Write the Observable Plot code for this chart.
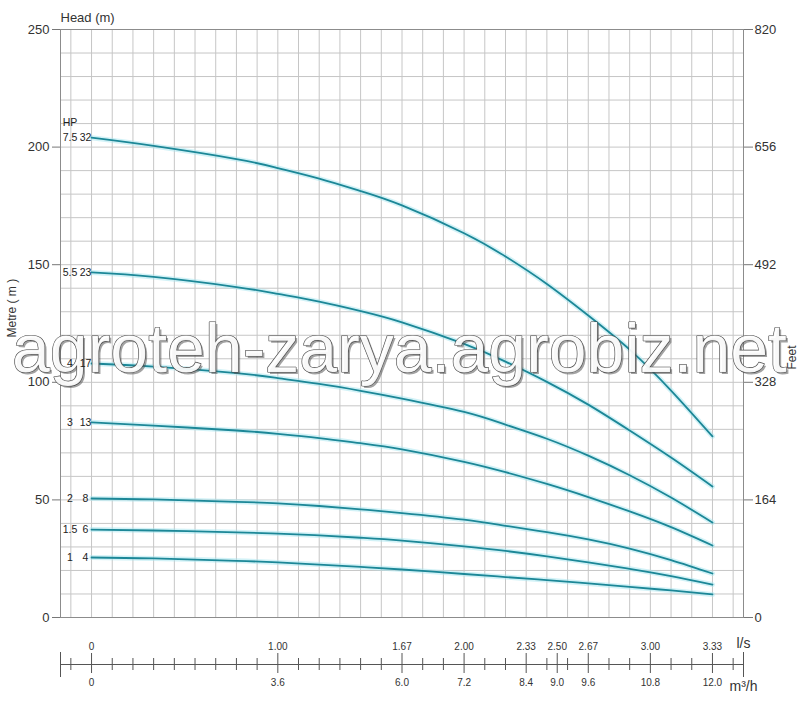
<!DOCTYPE html>
<html><head><meta charset="utf-8">
<script src="https://cdn.jsdelivr.net/npm/d3@7"></script>
<script src="https://cdn.jsdelivr.net/npm/@observablehq/plot@0.6"></script>
<style>
body{margin:0;background:#fff;}
#chart svg{display:block;}
</style></head><body><div id="chart"></div>
<script>
// Flow rate sample points (m³/h)
const flow = [0, 1.2, 2.8, 3.6, 4.4, 5.2, 6.0, 7.2, 8.0, 8.8, 9.6, 10.4, 11.2, 12.0];
// Head (m) per pump model, read at the flow points above
const head75 = [204, 200.5, 194.9, 191.1, 186.6, 181.3, 175.2, 163.4, 153.5, 141.8, 128.4, 113.9, 96.5, 77.0];
const head55 = [146.7, 144.8, 140.5, 137.6, 134.3, 130.3, 125.5, 116.3, 108.8, 100.2, 90.5, 79.5, 68.0, 55.7];
const head4  = [108, 106.7, 103.9, 101.8, 99.3, 96.4, 93.1, 87.4, 82.0, 76.0, 68.8, 60.5, 51.0, 40.4];
const head3  = [83, 81.6, 79.5, 78.1, 76.3, 74.1, 71.5, 66.2, 61.8, 56.8, 51.2, 45.1, 38.4, 30.6];
const head2  = [50.6, 50.2, 49.2, 48.5, 47.4, 46.0, 44.4, 41.6, 39.0, 36.3, 33.2, 29.3, 24.4, 18.7];
const head15 = [37.4, 37.0, 36.2, 35.7, 34.9, 33.9, 32.7, 30.2, 28.3, 26.0, 23.4, 20.7, 17.6, 14.0];
const head1  = [25.5, 25.1, 24.1, 23.4, 22.5, 21.5, 20.4, 18.5, 17.2, 15.9, 14.5, 13.0, 11.5, 9.8];
const hpLabels = ["7.5", "5.5", "4", "3", "2", "1.5", "1"];
const stageLabels = ["32", "23", "17", "13", "8", "6", "4"];
// Axes
const headTicks = [0, 50, 100, 150, 200, 250];
const feetLabels = ["0", "164", "328", "492", "656", "820"];
const m3hTicks = [0, 3.6, 6.0, 7.2, 8.4, 9.0, 9.6, 10.8, 12.0];
const m3hLabels = ["0", "3.6", "6.0", "7.2", "8.4", "9.0", "9.6", "10.8", "12.0"];
const lsLabels = ["0", "1.00", "1.67", "2.00", "2.33", "2.50", "2.67", "3.00", "3.33"];
const watermark = "agroteh-zarya.agrobiz.net";

const series = [head75, head55, head4, head3, head2, head15, head1];
const rows = series.flatMap((s, i) => flow.map((q, j) => ({q, h: s[j], pump: i})));
const starts = series.map((s, i) => ({q: flow[0], h: s[0], hp: hpLabels[i], st: stageLabels[i]}));

const xDomain = [-0.6, 12.6];
const gridQ = d3.range(-1, 32).map(k => +(k * 0.4).toFixed(1));
const gridH = d3.range(1, 25).map(k => k * 10);
const minorQ = gridQ.filter(q => !m3hTicks.includes(q));
const font = "'Liberation Sans', Arial, Helvetica, sans-serif";

const main = Plot.plot({
  width: 800, height: 630,
  marginTop: 29, marginRight: 57, marginBottom: 13, marginLeft: 60,
  style: {fontFamily: font, fontSize: "13px", color: "#333", background: "#fff", overflow: "visible"},
  x: {domain: xDomain, axis: null},
  y: {domain: [0, 250], axis: null},
  marks: [
    Plot.ruleX(gridQ, {stroke: "#c6c6c6", strokeWidth: 1}),
    Plot.ruleY(gridH, {stroke: "#c6c6c6", strokeWidth: 1}),
    Plot.frame({stroke: "#8c8c8c"}),
    Plot.axisY({ticks: headTicks, tickSize: 8, tickPadding: 3, label: null, stroke: "#777", fill: "#333", fontSize: 13}),
    Plot.axisY({anchor: "right", ticks: headTicks, tickSize: 9, tickPadding: 2, label: null, stroke: "#777", fill: "#333", fontSize: 13,
      tickFormat: d => feetLabels[headTicks.indexOf(d)]}),
    Plot.text(["Head (m)"], {frameAnchor: "top-left", dx: 0, dy: -17, textAnchor: "start", fontSize: 13, fill: "#333"}),
    Plot.text(["Metre ( m )"], {frameAnchor: "left", dx: -48, dy: 14, rotate: -90, fontSize: 12, fill: "#333"}),
    Plot.text(["Feet"], {frameAnchor: "right", dx: 49, dy: 22, rotate: -90, fontSize: 12, fill: "#333"}),
    Plot.line(rows, {x: "q", y: "h", z: "pump", stroke: "#a6e6ef", strokeWidth: 5, strokeOpacity: 0.5, curve: "natural"}),
    Plot.line(rows, {x: "q", y: "h", z: "pump", stroke: "#1c8797", strokeWidth: 1.8, curve: "natural"}),
    Plot.text([watermark], {frameAnchor: "middle", dx: -0.5, dy: 29, fontSize: 68, fill: "#555", fillOpacity: 0.55}),
    Plot.text([watermark], {frameAnchor: "middle", dx: -2.5, dy: 27, fontSize: 68, fill: "#fff", fillOpacity: 0.92, stroke: "#444", strokeWidth: 1.2}),
    Plot.text(starts, {x: "q", y: "h", text: "hp", dx: -21.5, fontSize: 10.5, fill: "#222"}),
    Plot.text(starts, {x: "q", y: "h", text: "st", dx: -6, fontSize: 10.5, fill: "#222"}),
    Plot.text(starts.slice(0, 1), {x: "q", y: "h", text: () => "HP", dx: -21.5, dy: -15, fontSize: 10.5, fill: "#222"})
  ]
});

const flowAxis = Plot.plot({
  width: 800, height: 73,
  marginTop: 0, marginRight: 57, marginBottom: 0, marginLeft: 60,
  style: {fontFamily: font, fontSize: "10px", color: "#333", background: "#fff", overflow: "visible"},
  x: {domain: xDomain, axis: null},
  y: {domain: [0, 73], range: [0, 73], axis: null},
  marks: [
    Plot.ruleY([34], {x1: xDomain[0], x2: xDomain[1], stroke: "#555"}),
    Plot.ruleX(minorQ, {y1: 28, y2: 40, stroke: "#555"}),
    Plot.ruleX(m3hTicks, {y1: 23, y2: 43, stroke: "#555"}),
    Plot.ruleX(xDomain, {y1: 22, y2: 47, stroke: "#555"}),
    Plot.text(m3hTicks, {x: d => d, y: 16.5, text: (d, i) => lsLabels[i], fontSize: 10, fill: "#333"}),
    Plot.text(m3hTicks, {x: d => d, y: 52, text: (d, i) => m3hLabels[i], fontSize: 10, fill: "#333"}),
    Plot.text(["l/s"], {x: xDomain[1], y: 13, fontSize: 14, fill: "#333"}),
    Plot.text(["m³/h"], {x: xDomain[1], y: 56, fontSize: 14, fill: "#333"})
  ]
});

document.getElementById("chart").append(main, flowAxis);
</script></body></html>
